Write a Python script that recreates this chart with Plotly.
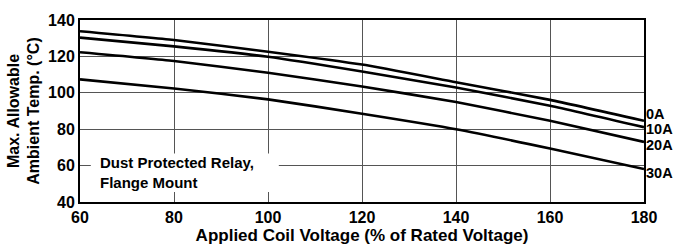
import plotly.graph_objects as go

voltage = [60, 80, 100, 120, 140, 160, 180]
temp_0a = [133.8, 129.0, 122.6, 115.5, 105.8, 96.1, 84.6]
temp_10a = [130.3, 125.5, 119.8, 111.7, 102.9, 92.9, 81.1]
temp_20a = [122.3, 117.5, 111.0, 103.5, 94.9, 84.6, 73.0]
temp_30a = [107.4, 102.4, 96.4, 88.5, 80.0, 69.4, 58.1]
series_names = ["0A", "10A", "20A", "30A"]
label_y = [88.2, 79.9, 71.2, 56]
x_ticks = [60, 80, 100, 120, 140, 160, 180]
y_ticks = [40, 60, 80, 100, 120, 140]

FONT = "Liberation Sans, Arial, sans-serif"

fig = go.Figure()
for name, vals in zip(series_names, [temp_0a, temp_10a, temp_20a, temp_30a]):
    fig.add_trace(go.Scatter(x=voltage, y=vals, mode="lines", name=name,
                             line=dict(color="black", width=2.6, shape="spline", smoothing=0.5)))

for name, yv in zip(series_names, label_y):
    fig.add_annotation(x=180, y=yv, xref="x", yref="y", text="<b>%s</b>" % name,
                       showarrow=False, xanchor="left", yanchor="middle", xshift=1,
                       borderpad=0, font=dict(family=FONT, size=14.5, color="black"))

fig.add_shape(type="rect", xref="x", yref="y", x0=62.3, x1=102.3, y0=45.5, y1=66.6,
              fillcolor="white", line=dict(width=0), layer="between")
fig.add_annotation(x=62.3, y=56, xref="x", yref="y",
                   text="<b>Dust Protected Relay,<br>Flange Mount</b>",
                   showarrow=False, xanchor="left", yanchor="middle", align="left", xshift=7,
                   font=dict(family=FONT, size=15, color="black"))

fig.update_layout(
    width=678, height=250,
    margin=dict(l=79, r=34, t=19, b=42),
    paper_bgcolor="white", plot_bgcolor="white",
    showlegend=False,
    font=dict(family=FONT, color="black"),
)
fig.update_xaxes(range=[60, 180], tickvals=x_ticks, ticktext=[str(v) for v in x_ticks],
                 showgrid=True, gridcolor="#555", gridwidth=1,
                 showline=True, linecolor="black", linewidth=2, mirror=True,
                 ticks="", tickfont=dict(family=FONT, size=16, color="black", weight="bold"),
                 title=dict(text="<b>Applied Coil Voltage (% of Rated Voltage)</b>",
                            font=dict(family=FONT, size=17, color="black"), standoff=0),
                 zeroline=False)
fig.update_yaxes(range=[40, 140], tickvals=y_ticks, ticktext=[str(v) for v in y_ticks],
                 showgrid=True, gridcolor="#555", gridwidth=1,
                 showline=True, linecolor="black", linewidth=2, mirror=True,
                 ticks="", tickfont=dict(family=FONT, size=16, color="black", weight="bold"),
                 title=dict(text="<b>Max. Allowable<br>Ambient Temp. (°C)</b>",
                            font=dict(family=FONT, size=16, color="black"), standoff=4),
                 zeroline=False)

fig.write_html("out.html", config={"displayModeBar": False},
               post_script="document.body.style.margin='0';document.body.style.overflow='hidden';")
